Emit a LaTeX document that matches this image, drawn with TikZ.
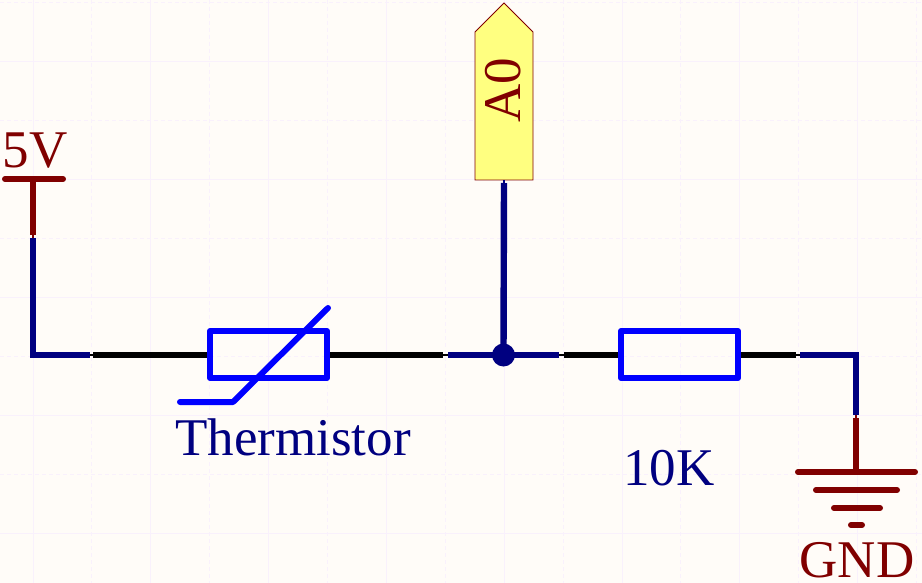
\documentclass[tikz,border=0pt]{standalone}
\usepackage{fontspec}
\usepackage{xcolor}
\setmainfont{Liberation Serif}
\usetikzlibrary{positioning}
\definecolor{sheet}{HTML}{FFFCF8}
\definecolor{gridline}{HTML}{F9F1FC}
\definecolor{netblue}{HTML}{000080}
\definecolor{powerred}{HTML}{800000}
\definecolor{partblue}{HTML}{0000FF}
\definecolor{portfill}{HTML}{FFFF80}
\tikzset{
  net/.style={draw=netblue,line width=6.4pt},
  lead/.style={draw=black,line width=6.4pt},
  power/.style={draw=powerred,line width=6.2pt},
  rail/.style={draw=powerred,line width=6pt,line cap=round},
  part/.style={draw=partblue,line width=6pt,line join=round,minimum width=117pt,minimum height=47pt,inner sep=0pt},
  slash/.style={draw=partblue,line width=6pt,line cap=round,line join=round},
  lbl/.style={font=\fontsize{53}{53}\selectfont,inner sep=0pt,anchor=base},
  hair/.style={line width=1.6pt},
  griddash/.style={gridline,line width=0.9pt,dash pattern=on 4pt off 3pt}
}
\begin{document}
\begin{tikzpicture}[x=1pt,y=-1pt]
\useasboundingbox[fill=sheet] (0,0) rectangle (922,583);
% grid
\foreach \i in {0,2,...,14} {
  \draw[gridline,line width=0.9pt] ({33+58.9*\i},0) -- ({33+58.9*\i},583);
  \draw[griddash] ({33+58.9*(\i+1)},0) -- ({33+58.9*(\i+1)},583);
}
\foreach \i in {0,2,...,8} {
  \draw[griddash] (0,{2+59*\i}) -- (922,{2+59*\i});
  \draw[gridline,line width=0.9pt] (0,{61+59*\i}) -- (922,{61+59*\i});
}

% nets, under the parts
\coordinate (netA) at (90,355);
\coordinate (netB) at (93,355);
\coordinate (netC) at (443,355);
\coordinate (netD) at (448,355);
\coordinate (netE) at (559,355);
\coordinate (netF) at (564,355);
\coordinate (netG) at (796,355);
\coordinate (netH) at (800,355);
\coordinate (vccPin) at (33,235);
\coordinate (vccNet) at (33,238);
\coordinate (gndPin) at (856,415);
\coordinate (gndTop) at (856,418);
\coordinate (portPin) at (504,180);
\coordinate (portNet) at (504,183);

\node[part] (RT) at (268.5,354.5) {};
\node[part] (R1) at (679.5,354.5) {};
\node[lbl,text=netblue] (RTlabel) at (293,455) {Thermistor};
\node[lbl,text=netblue] (R1label) at (669,485) {10K};

\coordinate (slashA) at (180,402);
\coordinate (slashB) at (233,402);
\coordinate (slashC) at (328,308);
\draw[slash] (slashA) -- (slashB) -- (slashC);

% 5V
\coordinate (vccTop) at (33,179);
\coordinate (vccL) at (5,179);
\coordinate (vccR) at (63,179);
\node[lbl,text=powerred] (vccLabel) at (35,168) {5V};
\draw[rail] (vccL) -- (vccR);
\draw[power] (vccTop) -- (vccPin);
\draw[powerred,hair] (vccPin) -- (vccNet);

% port
\coordinate (portTip) at (504,3);
\draw[powerred,fill=portfill,line width=0.9pt] (475,180) -- (475,32) -- (portTip) -- (533,32) -- (533,180) -- cycle;
\node[lbl,text=powerred,rotate=90,anchor=center] (portLabel) at (503.5,90.5) {A0};

\node[circle,fill=netblue,minimum size=23pt,inner sep=0pt] (dot) at (503.5,355) {};

\draw[net] (vccNet) |- (netA);
\draw[black,hair] (netA) -- (netB);
\draw[lead] (netB) -- (netB -| RT.west);
\draw[lead] (netC -| RT.east) -- (netC);
\draw[black,hair] (netC) -- (netD);
\draw[net] (netD) -- (netE);
\draw[net] (dot.center) -- (portNet);
\draw[netblue,hair] (portNet) -- (portPin);
\draw[black,hair] (netE) -- (netF);
\draw[lead] (netF) -- (netF -| R1.west);
\draw[lead] (netG -| R1.east) -- (netG);
\draw[black,hair] (netG) -- (netH);
\draw[net] (netH) -| (gndPin);

% GND
\coordinate (gndBar) at (856,472);
\draw[powerred,hair] (gndPin) -- (gndTop);
\draw[power] (gndTop) -- (gndBar);
\draw[rail] (798,472) -- (915,472);
\draw[rail] (816,490) -- (897,490);
\draw[rail] (834,508) -- (880,508);
\draw[rail] (851,525) -- (862,525);
\node[lbl,text=powerred] (gndLabel) at (857,577) {GND};
\end{tikzpicture}
\end{document}
